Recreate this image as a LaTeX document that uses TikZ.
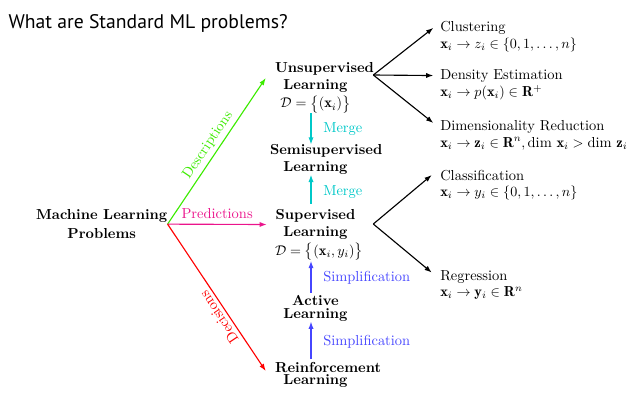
\documentclass[tikz,border=0pt]{standalone}
\usepackage{amsmath,amssymb}
\usepackage{fontspec}
\newfontfamily\headfont{PT Sans}
\usetikzlibrary{arrows.meta}

\definecolor{cgreen}{RGB}{60,235,0}
\definecolor{cmag}{RGB}{235,20,140}
\definecolor{cred}{RGB}{255,0,0}
\definecolor{ccyan}{RGB}{0,200,200}
\definecolor{cblue}{RGB}{70,70,255}

\newcommand{\dsize}[1]{\fontsize{10.3}{#1}\selectfont}

\begin{document}
\begin{tikzpicture}[x=0.25mm,y=-0.25mm,
  font=\dsize{12pt},
  prob/.style={font=\dsize{11.9pt}\bfseries, align=center, text width=20.25mm,
               inner sep=0pt, anchor=north},
  task/.style={anchor=base west, inner sep=0pt},
  arr/.style={-{Latex[length=1.8mm,width=1.3mm]}, line width=0.8pt},
  fork/.style={arr, black},
  vert/.style={arr, shorten <=#1},
  vert/.default=1pt]

\useasboundingbox (0,0) rectangle (640,400);

% heading
\node[anchor=base west, inner sep=0pt, font=\headfont\fontsize{14}{17}\selectfont]
  (title) at (8.3,28.3) {What are Standard ML problems?};

% root of the taxonomy
\node[font=\dsize{13.5pt}\bfseries, align=center, inner sep=0pt, anchor=north]
  (mlp) at (101.7,209.3) {Machine Learning\\Problems};

% learning settings
\node[prob] (uns) at (315.5,62)
  {Unsupervised\\Learning\\[1.5pt]\mbox{$\mathcal{D}=\bigl\{(\mathbf{x}_i)\bigr\}$}};
\node[prob, text width=22.75mm] (semi) at (315.5,144.5) {Semisupervised\\Learning};
\node[prob] (sup) at (315.5,209.5)
  {Supervised\\Learning\\[1.5pt]\mbox{$\mathcal{D}=\bigl\{(\mathbf{x}_i,y_i)\bigr\}$}};
\node[prob, font=\dsize{8.9pt}\bfseries] (act) at (315.5,295.5) {Active\\Learning};
\node[prob, font=\dsize{8.9pt}\bfseries] (rl) at (315.5,362) {Reinforcement\\Learning};

% tasks
\node[task] (clu)  at (440,31.5)  {Clustering};
\node[task] (cluf) at (440,48)    {$\mathbf{x}_i\rightarrow z_i\in\{0,1,\ldots,n\}$};
\node[task] (den)  at (440,79)    {Density Estimation};
\node[task] (denf) at (440,96.5)  {$\mathbf{x}_i\rightarrow p(\mathbf{x}_i)\in\mathbf{R}^+$};
\node[task] (dim)  at (440,130.5) {Dimensionality Reduction};
\node[task] (dimf) at (440,147)
  {$\mathbf{x}_i\rightarrow\mathbf{z}_i\in\mathbf{R}^n,\dim\,\mathbf{x}_i>\dim\,\mathbf{z}_i$};
\node[task] (cla)  at (440,180)   {Classification};
\node[task] (claf) at (440,196.5) {$\mathbf{x}_i\rightarrow y_i\in\{0,1,\ldots,n\}$};
\node[task] (reg)  at (440,280)   {Regression};
\node[task] (regf) at (440,296.5) {$\mathbf{x}_i\rightarrow\mathbf{y}_i\in\mathbf{R}^n$};

% three kinds of problems
\draw[arr, cgreen] (mlp.east) -- node[midway, sloped, above, inner sep=2.5pt, text=cgreen] {Descriptions}
  ([shift={(-9,16)}]uns.north west);
\draw[arr, cmag] (mlp.east) -- node[midway, above, text=cmag] {Predictions}
  ([shift={(-8,15)}]sup.north west);
\draw[arr, cred] (mlp.east) -- node[pos=0.6, sloped, above, inner sep=2.5pt, rotate=180, text=cred] {Decisions}
  ([shift={(-9,9)}]rl.north west);

% relations between settings
\draw[vert=0pt, ccyan] ([xshift=-1.125mm]uns.south) --
  node[right=5pt, text=ccyan] {Merge} ([xshift=-1.125mm]semi.north);
\draw[vert=4pt, ccyan] ([xshift=-1.125mm]sup.north) --
  node[right=5pt, text=ccyan] {Merge} ([xshift=-1.125mm]semi.south);
\draw[vert=2pt, cblue] ([xshift=-1.125mm]act.north) --
  node[right=5pt, text=cblue] {Simplification} ([xshift=-1.125mm]sup.south);
\draw[vert=2pt, cblue] ([xshift=-1.125mm]rl.north) --
  node[right=5pt, text=cblue] {Simplification} ([xshift=-1.125mm]act.south);

% tasks of each setting
\coordinate (ufork) at (373.3,75);
\coordinate (sfork) at (373.3,224);
\draw[fork] (ufork) -- ([shift={(-6.7,0)}]clu.west);
\draw[fork] (ufork) -- ([shift={(-6.7,0)}]den.west);
\draw[fork] (ufork) -- ([shift={(-6.7,-4)}]dim.west);
\draw[fork] (sfork) -- ([shift={(-8.3,0)}]cla.west);
\draw[fork] (sfork) -- ([shift={(-8.3,-4)}]reg.west);
\end{tikzpicture}
\end{document}
